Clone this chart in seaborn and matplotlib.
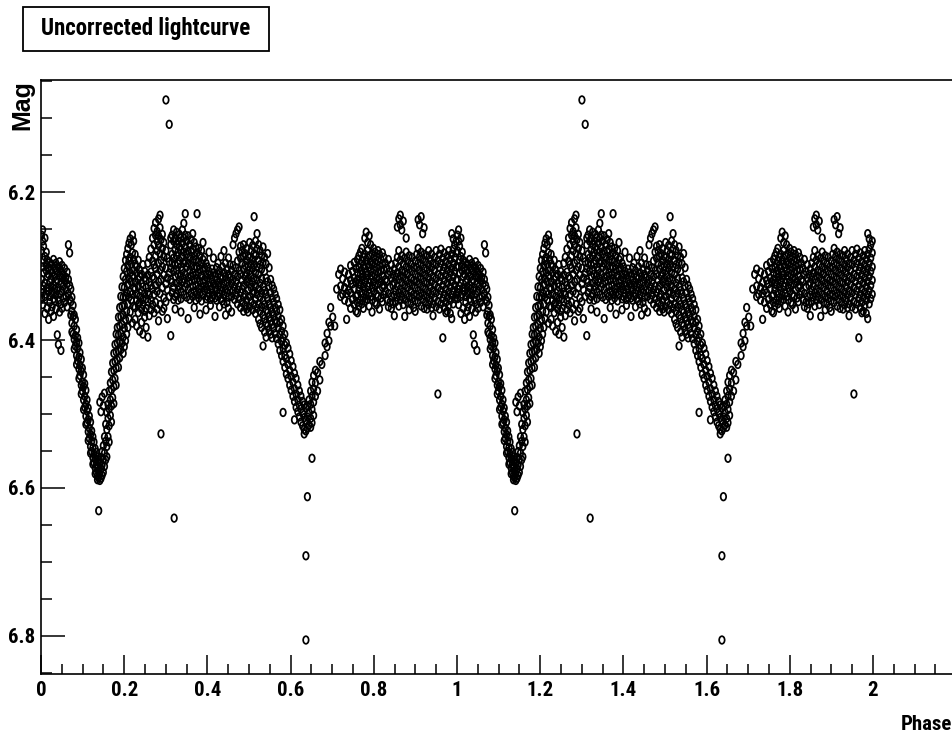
import matplotlib
matplotlib.use("Agg")
import matplotlib.pyplot as plt
from matplotlib.markers import MarkerStyle
from matplotlib.transforms import Affine2D
from matplotlib.patches import Rectangle
from matplotlib.ticker import FixedLocator, FixedFormatter, MultipleLocator
import pandas as pd
import seaborn as sns

# Folded light curve, one cycle: (phase, [magnitudes observed at that phase])
plateau_before_primary = [
    (0.0012, [6.258, 6.279, 6.318, 6.331, 6.344]),
    (0.0038, [6.251, 6.266, 6.301, 6.336, 6.352]),
    (0.0061, [6.273, 6.292, 6.309, 6.327]),
    (0.0094, [6.262, 6.287, 6.323, 6.341, 6.364]),
    (0.0127, [6.281, 6.298, 6.306, 6.338]),
    (0.0149, [6.292, 6.314, 6.329, 6.357]),
    (0.0183, [6.302, 6.311, 6.334, 6.372]),
    (0.0211, [6.295, 6.322, 6.341, 6.349]),
    (0.0242, [6.305, 6.317, 6.328, 6.361]),
    (0.0268, [6.298, 6.309, 6.337, 6.355]),
    (0.0301, [6.291, 6.326, 6.344, 6.368]),
    (0.0329, [6.303, 6.314, 6.331, 6.347]),
    (0.0357, [6.296, 6.321, 6.339, 6.358]),
    (0.0392, [6.307, 6.318, 6.333, 6.393]),
    (0.0418, [6.301, 6.329, 6.346, 6.406]),
    (0.0446, [6.294, 6.312, 6.338, 6.362]),
    (0.0479, [6.306, 6.323, 6.351, 6.414]),
    (0.0505, [6.299, 6.316, 6.334, 6.357]),
    (0.0537, [6.311, 6.327, 6.343]),
    (0.0566, [6.303, 6.319, 6.349]),
    (0.0598, [6.315, 6.332, 6.341]),
    (0.0627, [6.308, 6.324, 6.355]),
    (0.0659, [6.271, 6.318, 6.337]),
    (0.0688, [6.282, 6.326, 6.345]),
]

primary_eclipse = [
    (0.0716, [6.331, 6.348, 6.366]),
    (0.0743, [6.342, 6.361, 6.377, 6.389]),
    (0.0771, [6.353, 6.368, 6.392]),
    (0.0798, [6.366, 6.381, 6.399, 6.412]),
    (0.0826, [6.372, 6.394, 6.408]),
    (0.0855, [6.386, 6.403, 6.421, 6.433]),
    (0.0881, [6.397, 6.411, 6.428]),
    (0.0912, [6.404, 6.423, 6.439, 6.452]),
    (0.0937, [6.417, 6.434, 6.448]),
    (0.0968, [6.426, 6.442, 6.461, 6.473]),
    (0.0994, [6.438, 6.457, 6.469]),
    (0.1023, [6.447, 6.463, 6.481, 6.494]),
    (0.1051, [6.459, 6.476, 6.491]),
    (0.1079, [6.468, 6.487, 6.503, 6.514]),
    (0.1106, [6.481, 6.496, 6.512]),
    (0.1135, [6.492, 6.508, 6.524, 6.536]),
    (0.1162, [6.503, 6.519, 6.533]),
    (0.1191, [6.511, 6.528, 6.544, 6.553]),
    (0.1218, [6.523, 6.537, 6.551]),
    (0.1247, [6.531, 6.546, 6.559, 6.568]),
    (0.1274, [6.538, 6.554, 6.566]),
    (0.1302, [6.547, 6.561, 6.573, 6.581]),
    (0.1331, [6.552, 6.568, 6.579]),
    (0.1358, [6.558, 6.571, 6.584, 6.589]),
    (0.1387, [6.563, 6.577, 6.586, 6.631]),
    (0.1414, [6.484, 6.568, 6.581, 6.590]),
    (0.1443, [6.497, 6.559, 6.574, 6.587]),
    (0.1469, [6.477, 6.551, 6.569, 6.583]),
    (0.1498, [6.489, 6.543, 6.562, 6.579]),
    (0.1526, [6.472, 6.531, 6.553, 6.571]),
    (0.1555, [6.514, 6.537, 6.562]),
    (0.1583, [6.498, 6.521, 6.544, 6.558]),
    (0.1611, [6.487, 6.506, 6.531]),
    (0.1638, [6.469, 6.493, 6.516, 6.538]),
    (0.1667, [6.458, 6.481, 6.502]),
    (0.1694, [6.443, 6.467, 6.489, 6.511]),
    (0.1723, [6.431, 6.454, 6.478]),
    (0.1751, [6.418, 6.441, 6.463, 6.486]),
    (0.1779, [6.406, 6.429, 6.452]),
    (0.1806, [6.392, 6.416, 6.438, 6.461]),
    (0.1834, [6.383, 6.404, 6.427]),
    (0.1862, [6.369, 6.393, 6.415, 6.437]),
    (0.1891, [6.356, 6.381, 6.402, 6.424]),
    (0.1918, [6.341, 6.368, 6.391, 6.413]),
    (0.1947, [6.328, 6.354, 6.379, 6.404]),
    (0.1975, [6.314, 6.342, 6.366, 6.396, 6.418]),
    (0.2003, [6.303, 6.329, 6.353, 6.384, 6.409]),
    (0.2031, [6.292, 6.318, 6.341, 6.372, 6.401]),
    (0.2058, [6.284, 6.307, 6.336, 6.361, 6.392]),
    (0.2087, [6.276, 6.299, 6.324, 6.351, 6.383]),
    (0.2114, [6.269, 6.293, 6.317, 6.342, 6.371]),
    (0.2143, [6.263, 6.288, 6.309, 6.335, 6.362]),
    (0.2171, [6.271, 6.297, 6.321, 6.346]),
    (0.2199, [6.258, 6.282, 6.313, 6.338, 6.377]),
    (0.2227, [6.266, 6.291, 6.306, 6.329, 6.354]),
]

first_maximum = [
    (0.2263, [6.284, 6.297, 6.322, 6.331, 6.356, 6.372]),
    (0.2298, [6.301, 6.309, 6.338, 6.346, 6.381]),
    (0.2337, [6.292, 6.318, 6.327, 6.352, 6.363]),
    (0.2372, [6.305, 6.314, 6.341, 6.349, 6.388]),
    (0.2418, [6.311, 6.323, 6.334, 6.358, 6.376]),
    (0.2449, [6.298, 6.328, 6.345, 6.352, 6.392]),
    (0.2491, [6.307, 6.316, 6.337, 6.361, 6.369]),
    (0.2527, [6.319, 6.329, 6.344, 6.357, 6.383]),
    (0.2569, [6.296, 6.312, 6.335, 6.348, 6.396]),
    (0.2603, [6.288, 6.321, 6.339, 6.367]),
    (0.2642, [6.277, 6.308, 6.326, 6.346, 6.359]),
    (0.2681, [6.262, 6.293, 6.314, 6.331, 6.352]),
    (0.2718, [6.249, 6.271, 6.298, 6.317, 6.338, 6.363]),
    (0.2754, [6.241, 6.258, 6.286, 6.303, 6.326, 6.349]),
    (0.2792, [6.253, 6.266, 6.279, 6.311, 6.334, 6.358]),
    (0.2826, [6.236, 6.259, 6.272, 6.296, 6.321, 6.374]),
    (0.2861, [6.231, 6.248, 6.283, 6.305, 6.337, 6.352]),
    (0.2884, [6.264, 6.292, 6.318, 6.527]),
    (0.2917, [6.257, 6.276, 6.301, 6.329, 6.361]),
    (0.2953, [6.268, 6.287, 6.312, 6.343, 6.357]),
    (0.3003, [6.075, 6.279, 6.303, 6.324, 6.348]),
    (0.3038, [6.289, 6.316, 6.332, 6.371]),
    (0.3082, [6.108, 6.294, 6.309, 6.341]),
    (0.3119, [6.262, 6.271, 6.303, 6.318, 6.394]),
    (0.3152, [6.258, 6.284, 6.296, 6.322, 6.336]),
    (0.3188, [6.251, 6.266, 6.289, 6.307, 6.329, 6.345]),
    (0.3201, [6.641]),
    (0.3224, [6.262, 6.278, 6.298, 6.314, 6.341, 6.358]),
    (0.3259, [6.254, 6.271, 6.286, 6.305, 6.323, 6.338]),
    (0.3293, [6.266, 6.281, 6.297, 6.311, 6.332, 6.346]),
    (0.3327, [6.257, 6.274, 6.292, 6.319, 6.327]),
    (0.3364, [6.262, 6.278, 6.301, 6.313, 6.335, 6.344, 6.362]),
    (0.3399, [6.251, 6.269, 6.288, 6.306, 6.322]),
    (0.3433, [6.242, 6.262, 6.281, 6.296, 6.317, 6.339]),
    (0.3468, [6.229, 6.258, 6.274, 6.293, 6.311, 6.328]),
    (0.3502, [6.266, 6.284, 6.301, 6.324, 6.342]),
    (0.3538, [6.259, 6.279, 6.296, 6.315, 6.331, 6.371]),
    (0.3574, [6.271, 6.288, 6.306, 6.321, 6.345]),
    (0.3611, [6.264, 6.281, 6.299, 6.314, 6.336]),
    (0.3647, [6.256, 6.277, 6.292, 6.309, 6.327, 6.341]),
    (0.3683, [6.268, 6.286, 6.303, 6.319, 6.334, 6.356]),
    (0.3719, [6.274, 6.291, 6.312, 6.326, 6.346]),
    (0.3752, [6.229, 6.282, 6.301, 6.317, 6.338]),
    (0.3788, [6.276, 6.294, 6.309, 6.331, 6.343]),
    (0.3822, [6.286, 6.304, 6.321, 6.336, 6.365]),
    (0.3859, [6.279, 6.297, 6.313, 6.328, 6.347]),
    (0.3894, [6.268, 6.291, 6.306, 6.323, 6.339]),
    (0.3931, [6.288, 6.302, 6.318, 6.333]),
    (0.3967, [6.296, 6.311, 6.327, 6.344, 6.359]),
    (0.4003, [6.301, 6.316, 6.332, 6.341]),
    (0.4039, [6.281, 6.307, 6.322, 6.338]),
    (0.4074, [6.312, 6.327, 6.345, 6.353]),
    (0.4111, [6.304, 6.318, 6.331, 6.342]),
    (0.4146, [6.289, 6.309, 6.324, 6.339]),
    (0.4183, [6.314, 6.329, 6.343, 6.368]),
    (0.4219, [6.302, 6.319, 6.333, 6.346]),
    (0.4255, [6.296, 6.311, 6.326, 6.341]),
    (0.4291, [6.306, 6.322, 6.337, 6.355]),
    (0.4327, [6.287, 6.313, 6.328, 6.344]),
    (0.4362, [6.301, 6.317, 6.334, 6.347]),
    (0.4398, [6.279, 6.309, 6.324, 6.339, 6.351]),
    (0.4436, [6.296, 6.314, 6.331, 6.366]),
    (0.4471, [6.304, 6.321, 6.336, 6.349]),
    (0.4507, [6.289, 6.311, 6.327, 6.342, 6.357]),
    (0.4544, [6.298, 6.316, 6.333]),
    (0.4581, [6.306, 6.323, 6.341, 6.362]),
    (0.4617, [6.271, 6.299, 6.318, 6.334]),
    (0.4652, [6.262, 6.311, 6.328, 6.345]),
    (0.4688, [6.256, 6.302, 6.321, 6.339]),
    (0.4724, [6.251, 6.293, 6.314, 6.332, 6.351]),
    (0.4761, [6.247, 6.281, 6.306, 6.327, 6.344]),
    (0.4797, [6.273, 6.289, 6.311, 6.336, 6.356]),
    (0.4833, [6.279, 6.296, 6.319, 6.331, 6.349]),
    (0.4869, [6.271, 6.287, 6.304, 6.326, 6.342, 6.361]),
    (0.4906, [6.283, 6.299, 6.314, 6.338, 6.353]),
    (0.4942, [6.276, 6.292, 6.309, 6.321, 6.346, 6.358]),
    (0.4979, [6.286, 6.301, 6.317, 6.333, 6.362]),
    (0.5014, [6.268, 6.289, 6.306, 6.324, 6.341, 6.355]),
    (0.5051, [6.279, 6.297, 6.312, 6.329, 6.348]),
    (0.5087, [6.272, 6.291, 6.303, 6.322, 6.337, 6.359]),
    (0.5123, [6.233, 6.283, 6.298, 6.316, 6.334, 6.352]),
    (0.5158, [6.266, 6.286, 6.309, 6.327, 6.345, 6.364]),
    (0.5194, [6.256, 6.277, 6.301, 6.319, 6.338, 6.357]),
    (0.5231, [6.271, 6.292, 6.311, 6.331, 6.351, 6.372]),
    (0.5266, [6.279, 6.298, 6.323, 6.342, 6.361, 6.378]),
    (0.5302, [6.286, 6.304, 6.317, 6.336, 6.355, 6.383]),
    (0.5338, [6.274, 6.295, 6.328, 6.347, 6.366, 6.408]),
    (0.5374, [6.288, 6.307, 6.333, 6.352, 6.371, 6.389]),
    (0.5411, [6.297, 6.316, 6.338, 6.359, 6.377, 6.396]),
    (0.5447, [6.283, 6.321, 6.344, 6.363, 6.381]),
    (0.5483, [6.302, 6.327, 6.351, 6.369, 6.387]),
    (0.5519, [6.318, 6.336, 6.356, 6.374, 6.392]),
    (0.5556, [6.326, 6.343, 6.362, 6.379, 6.397]),
    (0.5592, [6.331, 6.349, 6.367, 6.384]),
    (0.5628, [6.338, 6.356, 6.373, 6.391]),
]

secondary_eclipse = [
    (0.5664, [6.344, 6.361, 6.377, 6.398]),
    (0.5702, [6.352, 6.368, 6.384, 6.405]),
    (0.5741, [6.359, 6.376, 6.393, 6.414]),
    (0.5783, [6.372, 6.388, 6.402, 6.421]),
    (0.5819, [6.381, 6.397, 6.411, 6.429, 6.498]),
    (0.5861, [6.392, 6.407, 6.421, 6.437]),
    (0.5898, [6.404, 6.425, 6.446]),
    (0.5937, [6.411, 6.433, 6.452]),
    (0.5979, [6.419, 6.441, 6.461]),
    (0.6014, [6.428, 6.449, 6.468]),
    (0.6056, [6.436, 6.457, 6.476]),
    (0.6093, [6.445, 6.466, 6.483, 6.508]),
    (0.6132, [6.452, 6.473, 6.491]),
    (0.6174, [6.461, 6.481, 6.497]),
    (0.6211, [6.469, 6.488, 6.504]),
    (0.6249, [6.476, 6.493, 6.511]),
    (0.6288, [6.483, 6.499, 6.516]),
    (0.6327, [6.488, 6.505, 6.521, 6.527]),
    (0.6368, [6.492, 6.509, 6.523, 6.692, 6.806]),
    (0.6404, [6.489, 6.504, 6.519, 6.612]),
    (0.6443, [6.481, 6.498, 6.515]),
    (0.6482, [6.469, 6.487, 6.506, 6.518]),
    (0.6514, [6.457, 6.476, 6.494, 6.512, 6.560]),
    (0.6553, [6.448, 6.466, 6.484, 6.502]),
    (0.6597, [6.441, 6.458, 6.476]),
    (0.6648, [6.444, 6.469]),
    (0.6703, [6.429, 6.454]),
    (0.6751, [6.433]),
    (0.6829, [6.404, 6.421]),
    (0.6877, [6.391, 6.409]),
    (0.6921, [6.376, 6.401]),
    (0.6963, [6.356, 6.381]),
    (0.7012, [6.369]),
    (0.7061, [6.381]),
    (0.7108, [6.331]),
    (0.7156, [6.311]),
]

second_maximum = [
    (0.7203, [6.304, 6.327, 6.341]),
    (0.7251, [6.317, 6.338]),
    (0.7298, [6.308, 6.329, 6.346]),
    (0.7347, [6.322, 6.337, 6.372]),
    (0.7392, [6.311, 6.333, 6.349]),
    (0.7443, [6.299, 6.319, 6.336, 6.357]),
    (0.7487, [6.307, 6.324, 6.345]),
    (0.7529, [6.295, 6.316, 6.331, 6.352]),
    (0.7571, [6.303, 6.322, 6.341, 6.361]),
    (0.7608, [6.291, 6.309, 6.318, 6.338, 6.349, 6.363]),
    (0.7642, [6.286, 6.302, 6.324, 6.331, 6.354]),
    (0.7679, [6.281, 6.297, 6.311, 6.325, 6.346]),
    (0.7713, [6.276, 6.293, 6.306, 6.319, 6.336, 6.351]),
    (0.7748, [6.288, 6.299, 6.314, 6.328, 6.343, 6.357]),
    (0.7784, [6.262, 6.284, 6.303, 6.321, 6.333, 6.347]),
    (0.7817, [6.254, 6.291, 6.309, 6.316, 6.339]),
    (0.7852, [6.268, 6.279, 6.297, 6.312, 6.328, 6.345]),
    (0.7888, [6.259, 6.286, 6.301, 6.323, 6.336, 6.354]),
    (0.7923, [6.271, 6.294, 6.307, 6.318, 6.341]),
    (0.7958, [6.283, 6.298, 6.313, 6.329, 6.346, 6.362]),
    (0.7994, [6.276, 6.289, 6.305, 6.321, 6.334]),
    (0.8029, [6.281, 6.296, 6.311, 6.327, 6.349]),
    (0.8065, [6.287, 6.302, 6.316, 6.338, 6.352]),
    (0.8101, [6.279, 6.293, 6.309, 6.324, 6.341]),
    (0.8136, [6.284, 6.299, 6.317, 6.332, 6.358]),
    (0.8172, [6.291, 6.306, 6.321, 6.343]),
    (0.8208, [6.282, 6.297, 6.314, 6.329, 6.348]),
    (0.8243, [6.288, 6.304, 6.326, 6.339]),
    (0.8279, [6.296, 6.318, 6.334]),
    (0.8316, [6.303, 6.321, 6.345]),
    (0.8351, [6.291, 6.312, 6.337, 6.355]),
    (0.8388, [6.307, 6.328, 6.349]),
    (0.8422, [6.298, 6.316, 6.341, 6.357]),
    (0.8459, [6.311, 6.326, 6.351]),
    (0.8493, [6.304, 6.322, 6.339, 6.367]),
    (0.8529, [6.296, 6.315, 6.333, 6.348]),
    (0.8566, [6.247, 6.288, 6.309, 6.327, 6.342]),
    (0.8601, [6.236, 6.279, 6.301, 6.318, 6.336, 6.354]),
    (0.8637, [6.231, 6.244, 6.292, 6.313, 6.331, 6.346]),
    (0.8672, [6.251, 6.286, 6.306, 6.322, 6.341]),
    (0.8708, [6.239, 6.297, 6.315, 6.334, 6.352]),
    (0.8744, [6.289, 6.308, 6.326, 6.345, 6.368]),
    (0.8779, [6.262, 6.281, 6.301, 6.319, 6.338]),
    (0.8815, [6.293, 6.311, 6.329, 6.349]),
    (0.8851, [6.286, 6.304, 6.323, 6.341, 6.359]),
    (0.8888, [6.297, 6.316, 6.334, 6.351]),
    (0.8923, [6.288, 6.307, 6.326, 6.344]),
    (0.8959, [6.301, 6.319, 6.338, 6.356]),
    (0.8995, [6.293, 6.311, 6.329, 6.347, 6.361]),
    (0.9031, [6.284, 6.302, 6.321, 6.339]),
    (0.9066, [6.237, 6.276, 6.296, 6.314, 6.333, 6.349]),
    (0.9102, [6.244, 6.287, 6.306, 6.324, 6.341]),
    (0.9138, [6.233, 6.281, 6.298, 6.317, 6.336, 6.354]),
    (0.9174, [6.256, 6.291, 6.309, 6.328, 6.345]),
    (0.9209, [6.248, 6.284, 6.303, 6.321, 6.339, 6.357]),
    (0.9245, [6.294, 6.312, 6.331, 6.349]),
    (0.9281, [6.286, 6.305, 6.323, 6.342, 6.358]),
    (0.9317, [6.279, 6.298, 6.316, 6.335, 6.352]),
    (0.9352, [6.291, 6.309, 6.328, 6.346]),
    (0.9388, [6.284, 6.302, 6.321, 6.339, 6.356]),
    (0.9424, [6.296, 6.314, 6.333, 6.351, 6.367]),
    (0.9461, [6.288, 6.306, 6.325, 6.343]),
    (0.9497, [6.279, 6.298, 6.317, 6.336, 6.355]),
    (0.9541, [6.292, 6.311, 6.329, 6.348, 6.473]),
    (0.9578, [6.284, 6.302, 6.321, 6.339, 6.358]),
    (0.9614, [6.277, 6.296, 6.314, 6.333, 6.351]),
    (0.9659, [6.289, 6.307, 6.326, 6.344, 6.397]),
    (0.9694, [6.282, 6.301, 6.319, 6.338, 6.356]),
    (0.9731, [6.294, 6.312, 6.331, 6.349, 6.363]),
    (0.9766, [6.286, 6.305, 6.323, 6.342, 6.361]),
    (0.9802, [6.279, 6.298, 6.316, 6.335, 6.353]),
    (0.9838, [6.291, 6.309, 6.328, 6.346, 6.364]),
    (0.9873, [6.256, 6.284, 6.303, 6.321, 6.339, 6.371]),
    (0.9909, [6.263, 6.277, 6.296, 6.314, 6.333, 6.351]),
    (0.9945, [6.271, 6.289, 6.307, 6.326, 6.344]),
    (0.9981, [6.266, 6.282, 6.301, 6.319, 6.338]),
]

# The folded curve is shown twice, over phases 0-1 and 1-2
cycles = [0, 1]

phase_ticks = [0.0, 0.2, 0.4, 0.6, 0.8, 1.0, 1.2, 1.4, 1.6, 1.8, 2.0]
phase_tick_labels = ["0", "0.2", "0.4", "0.6", "0.8", "1", "1.2", "1.4", "1.6", "1.8", "2"]
mag_ticks = [6.2, 6.4, 6.6, 6.8]
mag_tick_labels = ["6.2", "6.4", "6.6", "6.8"]

rows = []
for segment in (plateau_before_primary, primary_eclipse, first_maximum,
                secondary_eclipse, second_maximum):
    for phase, mags in segment:
        for cycle in cycles:
            for mag in mags:
                rows.append((phase + cycle, mag))
curve = pd.DataFrame(rows, columns=["Phase", "Mag"])

sns.set_theme(style="white")
narrow = ["Liberation Sans Narrow", "Roboto Condensed", "Liberation Sans", "DejaVu Sans"]
plt.rcParams["font.family"] = narrow
plt.rcParams["font.weight"] = "bold"
for key in ("text.color", "axes.labelcolor", "xtick.color", "ytick.color",
            "axes.edgecolor"):
    plt.rcParams[key] = "black"

W, H = 953, 735
fig = plt.figure(figsize=(W / 100, H / 100), dpi=100)
fig.patch.set_facecolor("white")
ax = fig.add_axes([41 / W, 1 - 674 / H, 2.2 * 416 / W, (674 - 80) / H])
ax.set_facecolor("white")

ring = MarkerStyle("o", transform=Affine2D().scale(0.72, 1.0))
sns.scatterplot(data=curve, x="Phase", y="Mag", ax=ax, marker=ring, s=30,
                facecolors="none", edgecolor="black", linewidth=1.25,
                legend=False)

ax.set_xlim(0, 2.2)
ax.set_ylim(6.852, 6.048)
ax.set_xlabel("")
ax.set_ylabel("")

ax.xaxis.set_major_locator(FixedLocator(phase_ticks))
ax.xaxis.set_major_formatter(FixedFormatter(phase_tick_labels))
ax.xaxis.set_minor_locator(MultipleLocator(0.05))
ax.yaxis.set_major_locator(FixedLocator(mag_ticks))
ax.yaxis.set_major_formatter(FixedFormatter(mag_tick_labels))
ax.yaxis.set_minor_locator(MultipleLocator(0.05))

ax.tick_params(axis="both", which="both", direction="in", colors="black",
               width=1.1, bottom=True, left=True, top=False, right=False,
               labelsize=15)
ax.tick_params(axis="x", which="major", length=14, pad=5)
ax.tick_params(axis="x", which="minor", length=7)
ax.tick_params(axis="y", which="major", length=17, pad=4)
ax.tick_params(axis="y", which="minor", length=8)
for lab in ax.get_xticklabels() + ax.get_yticklabels():
    lab.set_fontweight("bold")

for side in ("left", "bottom", "top"):
    ax.spines[side].set_visible(True)
    ax.spines[side].set_color("black")
    ax.spines[side].set_linewidth(1.2)
ax.spines["right"].set_visible(False)

# Axis titles in the corners, ROOT style
fig.text(22.5 / W, 1 - 80 / H, "Mag", rotation=90, ha="center", va="top",
         fontsize=18, fontweight="bold", family=["Liberation Sans", "DejaVu Sans"])
fig.text(0.999, 1 - 724 / H, "Phase", ha="right", va="center",
         fontsize=15, fontweight="bold")

# Title box
fig.patches.append(Rectangle((23 / W, 1 - 51 / H), 246 / W, 44 / H,
                             transform=fig.transFigure, facecolor="white",
                             edgecolor="black", linewidth=1.3))
fig.text(146 / W, 1 - 29 / H, "Uncorrected lightcurve", ha="center", va="center",
         fontsize=16.5, fontweight="bold")

fig.savefig("out.png", dpi=100)
